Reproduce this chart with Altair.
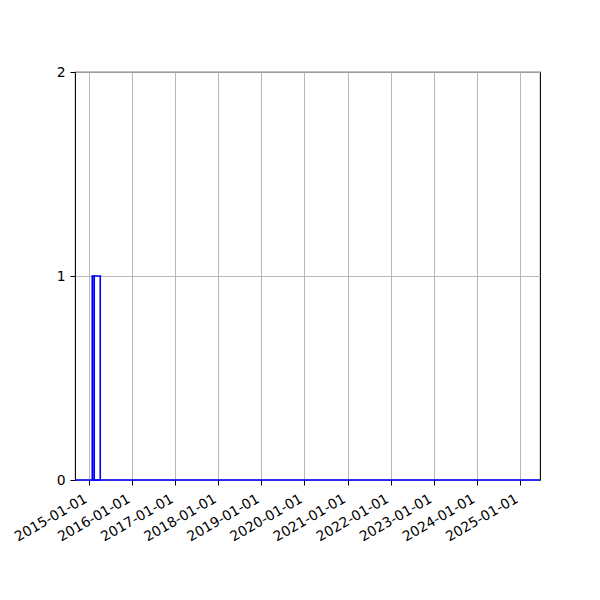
import altair as alt
import pandas as pd

# histogram bins
bin_starts = ["2015-01-28", "2015-02-14"]
bin_ends = ["2015-02-14", "2015-04-06"]
counts = [1, 1]

# baseline of the step histogram (spans the full data range)
base_start = ["2014-09-04"]
base_end = ["2025-06-19"]

x_domain = (alt.DateTime(year=2014, month=9, date=4, utc=True),
            alt.DateTime(year=2025, month=6, date=19, utc=True))
y_ticks = [0, 1, 2]

bars = pd.DataFrame({"start": bin_starts, "end": bin_ends, "count": counts, "zero": [0] * len(counts)})
base = pd.DataFrame({"start": base_start, "end": base_end, "zero": [0]})

xscale = alt.Scale(type="utc", domain=list(x_domain))
xaxis = alt.Axis(labelExpr="utcFormat(datum.value, '%Y-%m-%d')", labelAngle=330, labelAlign="right",
                 labelBaseline="alphabetic", tickCount={"interval": "year", "step": 1},
                 grid=True, title=None, domain=False, labelPadding=16, labelOffset=-1.5,
                 labelOverlap=False)
yscale = alt.Scale(domain=[0, 2], nice=False, zero=True)
yaxis = alt.Axis(values=y_ticks, labelExpr="format(datum.value, 'd')", grid=True, title=None,
                 domain=False, labelPadding=5, labelOverlap=False, tickCount=3)

rects = alt.Chart(bars).mark_rect(fill="white", fillOpacity=0, stroke="blue", strokeWidth=1.6).encode(
    x=alt.X("start:T", scale=xscale, axis=xaxis),
    x2="end:T",
    y=alt.Y("count:Q", scale=yscale, axis=yaxis),
    y2="zero:Q",
)

baseline = alt.Chart(base).mark_rule(color="blue", strokeWidth=1.6).encode(
    x=alt.X("start:T", scale=xscale, axis=xaxis),
    x2="end:T",
    y=alt.Y("zero:Q", scale=yscale, axis=yaxis),
)

chart = alt.layer(rects, baseline).properties(
    width=465, height=408,
    padding={"left": 67, "top": 64, "right": 52, "bottom": 100},
    autosize=alt.AutoSizeParams(type="none"),
).configure_view(
    stroke="black", strokeWidth=1.1
).configure_axis(
    labelFont="DejaVu Sans", labelFontSize=13.9, labelColor="black",
    tickColor="black", tickSize=5, tickWidth=1,
    gridColor="#b0b0b0", gridWidth=0.9,
)

chart.save("out.html", embed_options={"renderer": "svg", "actions": False})
